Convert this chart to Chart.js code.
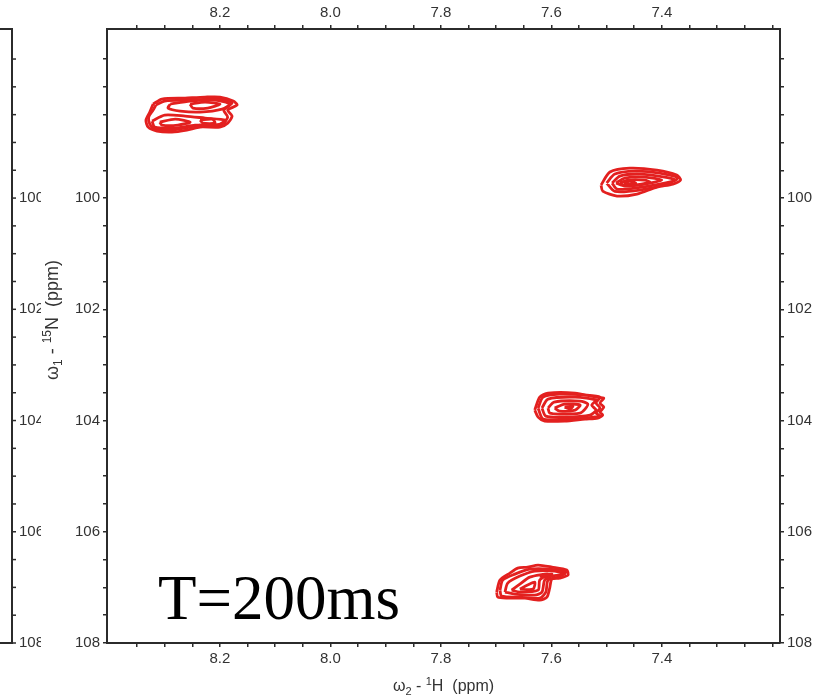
<!DOCTYPE html>
<html>
<head>
<meta charset="utf-8">
<script src="https://cdn.jsdelivr.net/npm/chart.js"></script>
<style>
html, body { margin: 0; padding: 0; background: #fff; }
#wrap { position: relative; width: 815px; height: 698px; }
</style>
</head>
<body>
<div id="wrap"><canvas id="hsqc"></canvas></div>
<script>
// axis ranges (ppm)
const xRange = [7.186, 8.4045];   // 1H, drawn reversed
const yRange = [96.96, 108];      // 15N, drawn reversed

// tick positions and the ones that get a label
const xTicks = [7.2, 7.25, 7.3, 7.35, 7.4, 7.45, 7.5, 7.55, 7.6, 7.65, 7.7, 7.75, 7.8, 7.85, 7.9, 7.95, 8.0, 8.05, 8.1, 8.15, 8.2, 8.25, 8.3, 8.35];
const xLabels = [7.4, 7.6, 7.8, 8.0, 8.2];
const yTicks = [97.5, 98, 98.5, 99, 99.5, 100, 100.5, 101, 101.5, 102, 102.5, 103, 103.5, 104, 104.5, 105, 105.5, 106, 106.5, 107, 107.5, 108];
const yLabels = [100, 102, 104, 106, 108];

// contour rings of each cross peak, outer ring first, [1H ppm, 15N ppm]
const peak1 = [
	[[8.321, 98.310], [8.305, 98.220], [8.263, 98.202], [8.227, 98.184], [8.200, 98.184], [8.176, 98.256], [8.169, 98.328], [8.186, 98.418], [8.178, 98.526], [8.186, 98.652], [8.200, 98.723], [8.236, 98.723], [8.260, 98.777], [8.287, 98.813], [8.314, 98.795], [8.330, 98.723], [8.334, 98.598], [8.327, 98.454]],
	[[8.316, 98.328], [8.300, 98.256], [8.254, 98.238], [8.200, 98.220], [8.178, 98.292], [8.193, 98.418], [8.186, 98.544], [8.196, 98.670], [8.236, 98.688], [8.263, 98.741], [8.290, 98.777], [8.318, 98.759], [8.327, 98.670], [8.329, 98.544], [8.321, 98.418]],
	[[8.290, 98.310], [8.254, 98.256], [8.209, 98.238], [8.182, 98.310], [8.196, 98.400], [8.236, 98.454], [8.272, 98.436], [8.294, 98.382]],
	[[8.323, 98.616], [8.300, 98.508], [8.263, 98.526], [8.227, 98.562], [8.191, 98.598], [8.204, 98.688], [8.245, 98.688], [8.281, 98.741], [8.318, 98.723]],
	[[8.254, 98.310], [8.227, 98.274], [8.200, 98.310], [8.222, 98.382], [8.249, 98.382]],
	[[8.309, 98.634], [8.281, 98.580], [8.254, 98.634], [8.276, 98.688], [8.305, 98.688]],
	[[8.236, 98.598], [8.214, 98.580], [8.209, 98.652], [8.231, 98.652]]
];
const peak2 = [
	[[7.510, 99.766], [7.494, 99.532], [7.458, 99.461], [7.409, 99.497], [7.373, 99.586], [7.366, 99.676], [7.380, 99.748], [7.409, 99.802], [7.445, 99.928], [7.481, 99.964], [7.507, 99.874]],
	[[7.500, 99.730], [7.485, 99.568], [7.449, 99.515], [7.404, 99.550], [7.371, 99.640], [7.391, 99.748], [7.440, 99.856], [7.485, 99.880]],
	[[7.490, 99.730], [7.476, 99.604], [7.440, 99.568], [7.395, 99.622], [7.376, 99.676], [7.404, 99.748], [7.449, 99.820], [7.481, 99.838]],
	[[7.483, 99.730], [7.467, 99.640], [7.431, 99.622], [7.400, 99.676], [7.431, 99.748], [7.467, 99.784]],
	[[7.476, 99.730], [7.462, 99.676], [7.431, 99.676], [7.422, 99.712], [7.449, 99.766], [7.469, 99.766]],
	[[7.469, 99.730], [7.458, 99.694], [7.447, 99.730], [7.458, 99.748]]
];
const peak3 = [
	[[7.630, 103.812], [7.621, 103.578], [7.606, 103.506], [7.557, 103.506], [7.521, 103.578], [7.505, 103.596], [7.512, 103.686], [7.505, 103.758], [7.512, 103.848], [7.507, 103.902], [7.516, 103.956], [7.539, 103.974], [7.576, 104.010], [7.612, 104.010], [7.624, 103.938]],
	[[7.624, 103.776], [7.615, 103.578], [7.585, 103.524], [7.539, 103.542], [7.512, 103.578], [7.519, 103.686], [7.512, 103.776], [7.519, 103.866], [7.512, 103.920], [7.539, 103.956], [7.576, 103.974], [7.615, 103.974]],
	[[7.617, 103.776], [7.606, 103.614], [7.557, 103.578], [7.519, 103.632], [7.527, 103.722], [7.519, 103.812], [7.530, 103.902], [7.576, 103.938], [7.610, 103.920]],
	[[7.606, 103.776], [7.595, 103.668], [7.548, 103.650], [7.534, 103.704], [7.539, 103.794], [7.548, 103.866], [7.585, 103.884], [7.603, 103.866]],
	[[7.594, 103.776], [7.576, 103.704], [7.548, 103.722], [7.557, 103.812], [7.585, 103.830]],
	[[7.576, 103.758], [7.561, 103.740], [7.566, 103.794]]
];
const peak4 = [
	[[7.699, 107.085], [7.693, 106.869], [7.675, 106.743], [7.661, 106.653], [7.643, 106.635], [7.624, 106.599], [7.599, 106.635], [7.572, 106.689], [7.570, 106.779], [7.585, 106.833], [7.599, 106.851], [7.603, 107.013], [7.608, 107.175], [7.621, 107.229], [7.648, 107.193], [7.679, 107.193], [7.697, 107.175]],
	[[7.693, 107.049], [7.688, 106.869], [7.666, 106.761], [7.639, 106.671], [7.603, 106.671], [7.574, 106.725], [7.588, 106.815], [7.606, 106.869], [7.610, 107.085], [7.621, 107.193], [7.657, 107.175], [7.690, 107.157]],
	[[7.684, 107.085], [7.679, 106.923], [7.657, 106.797], [7.630, 106.707], [7.594, 106.707], [7.576, 106.761], [7.599, 106.797], [7.612, 106.869], [7.617, 107.085], [7.630, 107.139], [7.666, 107.121]],
	[[7.672, 107.049], [7.657, 106.941], [7.639, 106.815], [7.606, 106.761], [7.621, 106.869], [7.624, 107.049], [7.657, 107.085]],
	[[7.657, 107.031], [7.643, 106.959], [7.630, 106.905], [7.633, 107.031]],
	[[7.621, 106.797], [7.599, 106.761], [7.606, 106.815]]
];
const peaks = [peak1, peak2, peak3, peak4];

const mixLabel = "T=200ms";

const CONTOUR = '#e3201f';
const FRAME = '#2b2b2b';
const TEXT = '#333333';
const SANS = '"Liberation Sans", Arial, sans-serif';

// every ring becomes a closed line
let datasets = [];
peaks.forEach(rings => {
	rings.forEach(ring => {
		let pts = ring.map(p => ({ x: p[0], y: p[1] }));
		pts.push(pts[0]);
		datasets.push({
			data: pts,
			showLine: true,
			borderColor: CONTOUR,
			borderWidth: 2.8,
			pointRadius: 0,
			tension: 0.25,
			fill: false
		});
	});
});

function isIn(list, v) {
	return list.some(l => Math.abs(l - v) < 1e-6);
}

function axis(pos, range, ticks, labels, size, digits) {
	let horizontal = (pos == 'top' || pos == 'bottom');
	return {
		type: 'linear',
		position: pos,
		min: range[0],
		max: range[1],
		reverse: true,
		afterBuildTicks: s => { s.ticks = ticks.map(v => ({ value: v })); },
		afterFit: s => {
			if (horizontal) s.height = size;
			else s.width = size;
		},
		grid: {
			drawOnChartArea: false,
			drawTicks: true,
			tickLength: 4,
			color: FRAME,
			lineWidth: 1.5
		},
		border: { display: true, color: FRAME, width: 2 },
		ticks: {
			autoSkip: false,
			maxRotation: 0,
			padding: 3,
			color: TEXT,
			font: { family: SANS, size: 15 },
			callback: v => isIn(labels, v) ? v.toFixed(digits) : ''
		}
	};
}

// draws a string made of pieces [text, font size, baseline shift]
function richText(ctx, parts, cx, base) {
	let w = 0;
	parts.forEach(p => {
		ctx.font = p[1] + 'px ' + SANS;
		w += ctx.measureText(p[0]).width;
	});
	let x = cx - w / 2;
	ctx.textAlign = 'left';
	ctx.textBaseline = 'alphabetic';
	parts.forEach(p => {
		ctx.font = p[1] + 'px ' + SANS;
		ctx.fillText(p[0], x, base + p[2]);
		x += ctx.measureText(p[0]).width;
	});
}

const decor = {
	id: 'decor',
	afterDraw(chart) {
		const ctx = chart.ctx;
		const a = chart.chartArea;
		const ys = chart.scales.y;
		ctx.save();

		// right edge of the neighbouring panel, cut by the picture
		ctx.strokeStyle = FRAME;
		ctx.lineWidth = 2;
		ctx.beginPath();
		ctx.moveTo(0, a.top);
		ctx.lineTo(12, a.top);
		ctx.lineTo(12, a.bottom);
		ctx.lineTo(0, a.bottom);
		ctx.stroke();
		ctx.lineWidth = 1.5;
		yTicks.forEach(v => {
			let py = ys.getPixelForValue(v);
			ctx.beginPath();
			ctx.moveTo(12, py);
			ctx.lineTo(16, py);
			ctx.stroke();
		});
		ctx.beginPath();
		ctx.rect(0, 0, 41, chart.height);
		ctx.clip();
		ctx.fillStyle = TEXT;
		ctx.font = '15px ' + SANS;
		ctx.textAlign = 'left';
		ctx.textBaseline = 'middle';
		yLabels.forEach(v => ctx.fillText(String(v), 19, ys.getPixelForValue(v)));
		ctx.restore();

		ctx.save();
		ctx.fillStyle = TEXT;
		// axis titles
		richText(ctx, [['\u03c9', 16, 0], ['2', 11, 4], [' - ', 16, 0], ['1', 11, -6], ['H  (ppm)', 16, 0]], (a.left + a.right) / 2, 691);
		ctx.translate(52, 320);
		ctx.rotate(-Math.PI / 2);
		richText(ctx, [['\u03c9', 18, 0], ['1', 12, 4], [' - ', 18, 0], ['15', 12, -7], ['N  (ppm)', 18, 0]], 0, 6);
		ctx.restore();

		ctx.save();
		ctx.fillStyle = '#000';
		ctx.font = '63px "Liberation Serif", "Times New Roman", serif';
		ctx.textAlign = 'left';
		ctx.textBaseline = 'alphabetic';
		ctx.fillText(mixLabel, 158, 619);
		ctx.restore();
	}
};

new Chart(document.getElementById('hsqc'), {
	type: 'scatter',
	data: { datasets: datasets },
	options: {
		responsive: true,
		maintainAspectRatio: false,
		animation: false,
		layout: { padding: 0 },
		plugins: {
			legend: { display: false },
			tooltip: { enabled: false }
		},
		scales: {
			x: axis('bottom', xRange, xTicks, xLabels, 55, 1),
			x2: axis('top', xRange, xTicks, xLabels, 29, 1),
			y: axis('left', yRange, yTicks, yLabels, 107, 0),
			y2: axis('right', yRange, yTicks, yLabels, 35, 0)
		}
	},
	plugins: [decor]
});
</script>
</body>
</html>
